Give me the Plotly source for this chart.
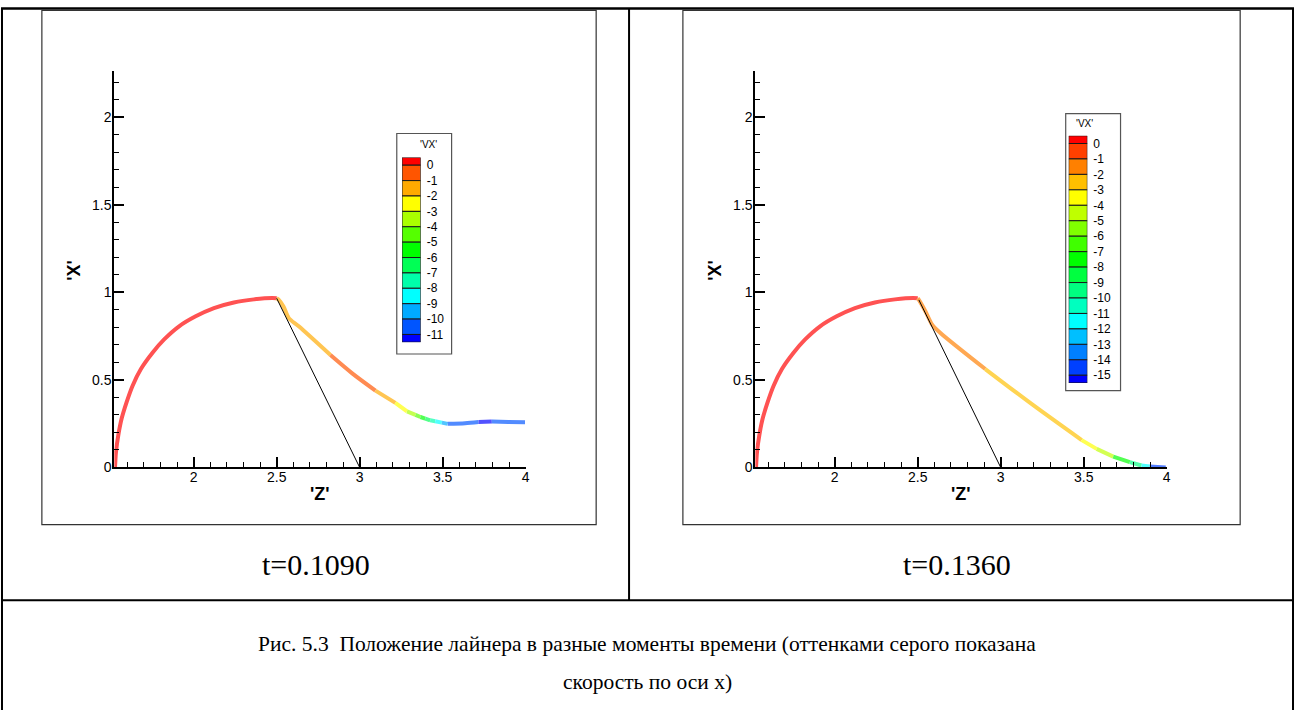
import colorsys
import plotly.graph_objects as go

W, H = 1299, 718

# ---- liner shape: stationary arc (shared by both moments) ----
arc_z = [1.526, 1.532, 1.546, 1.566, 1.596, 1.632, 1.682, 1.752, 1.822, 1.912,
         2.012, 2.122, 2.242, 2.363, 2.473, 2.500]
arc_x = [0.000, 0.090, 0.185, 0.279, 0.373, 0.467, 0.562, 0.655, 0.731, 0.806,
         0.863, 0.910, 0.942, 0.960, 0.968, 0.966]
arc_vx = [0.5, 0.5, 0.5, 0.5, 0.5, 0.5, 0.5, 0.5, 0.5, 0.5,
          0.5, 0.5, 0.5, 0.5, 0.5, 0.5]

# ---- moving part, t = 0.1090 ----
tail_z_1090 = [2.513, 2.541, 2.573, 2.633, 2.824, 2.953, 3.095, 3.215, 3.285, 3.336,
               3.366, 3.395, 3.425, 3.455, 3.495, 3.530, 3.635, 3.716, 3.796, 3.896, 3.996]
tail_x_1090 = [0.957, 0.919, 0.853, 0.806, 0.642, 0.539, 0.439, 0.369, 0.320, 0.300,
               0.288, 0.279, 0.269, 0.264, 0.256, 0.249, 0.253, 0.260, 0.262, 0.260, 0.258]
tail_vx_1090 = [-1.5, -1.5, -1.5, -1.5, -1.5, -0.5, -0.5, -1.5, -2.5, -3.5,
                -4.5, -5.5, -6.5, -7.5, -8.5, -9.5, -10.5, -10.5, -11.3, -10.5, -10.5]
rod_z_1090 = [2.500, 3.000]
rod_x_1090 = [0.966, 0.000]
levels_1090 = [0, -1, -2, -3, -4, -5, -6, -7, -8, -9, -10, -11]

# ---- moving part, t = 0.1360 ----
tail_z_1360 = [2.507, 2.547, 2.587, 2.637, 2.907, 3.198, 3.488, 3.578, 3.678, 3.778,
               3.848, 3.898, 3.994]
tail_x_1360 = [0.957, 0.891, 0.816, 0.768, 0.562, 0.354, 0.156, 0.106, 0.062, 0.030,
               0.011, 0.006, 0.000]
tail_vx_1360 = [-1.5, -1.5, -1.5, -1.5, -1.5, -2.5, -2.5, -3.5, -4.5, -7.5,
                -9.5, -11.5, -14.5]
rod_z_1360 = [2.507, 3.000]
rod_x_1360 = [0.957, 0.000]
levels_1360 = [0, -1, -2, -3, -4, -5, -6, -7, -8, -9, -10, -11, -12, -13, -14, -15]

z_range = [1.522, 4.0]
x_range = [0.0, 2.265]

captions = ["t=0.1090", "t=0.1360"]
fig_caption_1 = "Рис. 5.3  Положение лайнера в разные моменты времени (оттенками серого показана"
fig_caption_2 = "скорость по оси х)"


def px(x):
    return x / W


def py(y):
    return 1 - y / H


def band(v, levels):
    return sum(1 for lv in levels if lv >= v)


def band_rgb(k, nb, mix=1.0):
    r, g, b = colorsys.hsv_to_rgb((240.0 * k / nb) / 360.0, 1, 1)
    r, g, b = (c * mix + (1 - mix) for c in (r, g, b))
    return "rgb(%d,%d,%d)" % (round(r * 255), round(g * 255), round(b * 255))


fig = go.Figure()


def add_liner(z, x, vx, levels, xa, ya):
    nb = len(levels)
    runs = []
    for i in range(1, len(z)):
        k = band(vx[i], levels)
        if runs and runs[-1][0] == k:
            runs[-1][1].append(i)
        else:
            runs.append([k, [i - 1, i]])
    for k, idx in runs:
        fig.add_trace(go.Scatter(
            x=[z[i] for i in idx], y=[x[i] for i in idx], mode="lines",
            line=dict(color=band_rgb(k, nb, 0.68), width=4, shape="spline", smoothing=0.8),
            xaxis=xa, yaxis=ya, showlegend=False, hoverinfo="skip"))


def add_rod(z, x, xa, ya):
    fig.add_trace(go.Scatter(x=z, y=x, mode="lines", line=dict(color="black", width=1),
                             xaxis=xa, yaxis=ya, showlegend=False, hoverinfo="skip"))


def add_key(levels, xa, ya):
    nb = len(levels)
    tops = [levels[0] + 0.5] + levels
    bottoms = levels + [levels[-1] - 0.5]
    fig.add_trace(go.Bar(
        x=[0] * len(tops), y=[t - b for t, b in zip(tops, bottoms)], base=bottoms,
        width=1.0, marker=dict(color=[band_rgb(k, nb) for k in range(nb + 1)],
                               line=dict(color="#1a1a1a", width=1)),
        xaxis=xa, yaxis=ya, showlegend=False, hoverinfo="skip"))


add_liner(arc_z + tail_z_1090, arc_x + tail_x_1090, arc_vx + tail_vx_1090, levels_1090, "x", "y")
add_rod(rod_z_1090, rod_x_1090, "x", "y")
add_liner(arc_z + tail_z_1360, arc_x + tail_x_1360, arc_vx + tail_vx_1360, levels_1360, "x2", "y2")
add_rod(rod_z_1360, rod_x_1360, "x2", "y2")
add_key(levels_1090, "x3", "y3")
add_key(levels_1360, "x4", "y4")

tick_font = dict(family="Liberation Sans, Arial", size=14, color="black")
main_axis = dict(showline=True, linecolor="black", linewidth=2, ticks="inside", ticklen=10,
                 tickwidth=2, tickcolor="black", dtick=0.5, tick0=0, showgrid=False,
                 zeroline=False, tickfont=tick_font, fixedrange=True,
                 minor=dict(ticks="inside", ticklen=5, tickwidth=1, tickcolor="black",
                            dtick=0.1, tick0=0, showgrid=False))
key_x = dict(visible=False, range=[-0.5, 0.5], fixedrange=True)
key_y = dict(side="right", ticks="", showline=False, showgrid=False, zeroline=False,
             tickfont=dict(family="Liberation Sans, Arial", size=12, color="black"),
             fixedrange=True, ticklabelstandoff=5)

fig.update_layout(
    width=W, height=H, margin=dict(l=0, r=0, t=0, b=0),
    paper_bgcolor="white", plot_bgcolor="rgba(0,0,0,0)", barmode="overlay",
    xaxis=dict(main_axis, domain=[px(114.7), px(527.3)], range=z_range, anchor="y",
               ticklabelstandoff=-4),
    yaxis=dict(main_axis, domain=[py(472.7), py(71.7)], range=x_range, anchor="x",
               ticklabelstandoff=-2),
    xaxis2=dict(main_axis, domain=[px(757.7), px(1170.3)], range=z_range, anchor="y2",
                ticklabelstandoff=-4),
    yaxis2=dict(main_axis, domain=[py(472.7), py(71.7)], range=x_range, anchor="x2",
                ticklabelstandoff=-2),
    xaxis3=dict(key_x, domain=[px(403.3), px(422)], anchor="y3"),
    yaxis3=dict(key_y, domain=[py(346), py(159.3)], range=[levels_1090[-1] - 0.5, 0.5],
                tickvals=levels_1090, ticktext=[str(v) for v in levels_1090], anchor="x3"),
    xaxis4=dict(key_x, domain=[px(1072), px(1090.7)], anchor="y4"),
    yaxis4=dict(key_y, domain=[py(387.3), py(137.3)], range=[levels_1360[-1] - 0.5, 0.5],
                tickvals=levels_1360, ticktext=[str(v) for v in levels_1360], anchor="x4"),
)

shapes = []


def line(x0, y0, x1, y1, w=2, c="black"):
    shapes.append(dict(type="line", xref="paper", yref="paper", x0=px(x0), y0=py(y0),
                       x1=px(x1), y1=py(y1), line=dict(color=c, width=w), layer="above"))


def rect(x0, y0, x1, y1, w=1, c="#444"):
    shapes.append(dict(type="rect", xref="paper", yref="paper", x0=px(x0), y0=py(y0),
                       x1=px(x1), y1=py(y1), line=dict(color=c, width=w), layer="above"))


# table grid
line(1, 8.5, 1298, 8.5, 2.5)
line(2, 8, 2, 718, 2)
line(1297, 8, 1297, 718, 2)
line(631, 8, 631, 607, 2)
line(1, 607, 1298, 607, 2)
# plot frames
rect(42, 10.5, 598, 530.5, 1.2, "#333")
rect(685, 10.5, 1244, 530.5, 1.2, "#333")
# colour key boxes
rect(398, 135, 453, 358, 1.2, "#555")
rect(1069, 115, 1124, 395, 1.2, "#555")

ann = []


def text(x, y, s, size, family="Liberation Serif, Times New Roman", angle=0, xanchor="center"):
    ann.append(dict(x=px(x), y=py(y), xref="paper", yref="paper", text=s, showarrow=False,
                    xanchor=xanchor, yanchor="middle", textangle=angle,
                    font=dict(family=family, size=size, color="black")))


for dx in (0, 643):
    text(321 + dx, 500, "<b>'Z'</b>", 18, "Liberation Sans, Arial")
    text(74 + dx, 273, "<b>'X'</b>", 18, "Liberation Sans, Arial", angle=-90)
text(430, 146, "'VX'", 10, "Liberation Sans, Arial")
text(1088, 125, "'VX'", 10, "Liberation Sans, Arial")
text(317, 571, captions[0], 30)
text(960, 571, captions[1], 30)
text(649, 651, fig_caption_1, 21.5)
text(649, 690, fig_caption_2, 21.5)

fig.update_layout(shapes=shapes, annotations=ann)
fig.write_html("out.html")
